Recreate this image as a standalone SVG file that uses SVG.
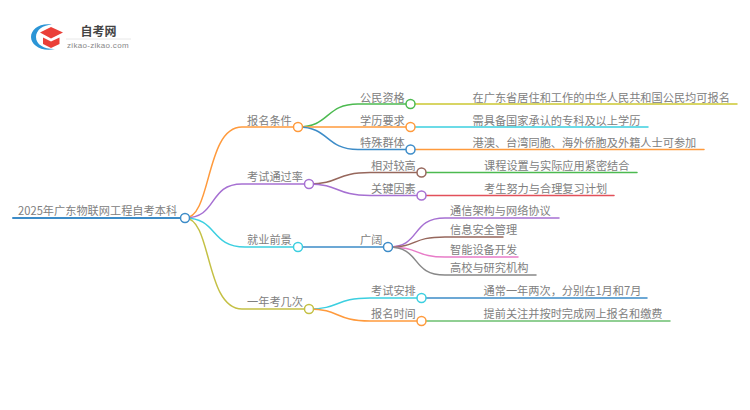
<svg xmlns="http://www.w3.org/2000/svg" width="750" height="410" viewBox="0 0 750 410">
<style>
text{font-family:"Noto Sans CJK SC","Liberation Sans",sans-serif;font-size:11.2px;fill:#808080}
.c{fill:none;stroke-width:1.5;stroke-linecap:round}
.n{fill:#fff;stroke-width:1.5}
.or{stroke:#ff9a3c}.pu{stroke:#a670d2}.cy{stroke:#3ccfe0}.ol{stroke:#c4c044}.gr{stroke:#4cba50}.bl{stroke:#3d8cc8}.br{stroke:#96675c}.re{stroke:#e2505a}.pi{stroke:#e87cc8}.ga{stroke:#888}.ye{stroke:#ccc832}.gn{stroke:#6cc070}
</style>
<rect width="750" height="410" fill="#fff"/>
<g id="logo">
<path d="M52 24.500C40 22.500 31 29 31 37C31 45 41 52 55 49C45 49.500 36 45 36 37C36 30 43 25 52 24.500Z" fill="#2b95d6"/>
<path d="M51 27L63 32.500L51 38.500L40 32.500Z" fill="#ea3f38"/>
<path d="M43 37.500L51 41.500L59.500 37.500V44L51 48L43 44Z" fill="#ea3f38"/>
<text x="80.500" y="35.500" style="font-size:12px;font-weight:700;fill:#444">自考网</text>
<line x1="66" y1="39" x2="131" y2="39" stroke="#e8e8e8"/>
<text x="67" y="48" style="font-size:8px;fill:#888;font-family:'Liberation Sans',sans-serif;letter-spacing:.3px">zikao-zikao.com</text>
</g>
<g id="connectors">
<path class="c bl" d="M13 218H185" style="stroke-width:2"/>
<path class="c or" d="M185 218C212 218 205 127 242 127H298"/>
<path class="c pu" d="M185 218C218 218 208 184 242 184H309"/>
<path class="c cy" d="M185 218C218 218 210 247 245 247H298"/>
<path class="c ol" d="M185 218C212 218 205 309 242 309H309"/>
<path class="c gr" d="M298 127C330 127 325 104 358 104H410"/>
<path class="c or" d="M298 127H410"/>
<path class="c bl" d="M298 127C330 127 325 149.500 358 149.500H410"/>
<path class="c br" d="M309 184C340 184 335 172.500 370 172.500H421"/>
<path class="c pu" d="M309 184C340 184 335 195.500 370 195.500H421"/>
<path class="c bl" d="M298 247H388"/>
<path class="c cy" d="M309 309C340 309 335 298 370 298H421"/>
<path class="c or" d="M309 309C340 309 335 321 370 321H421"/>
<path class="c pu" d="M388 247C422 247 410 218 445 218H559"/>
<path class="c br" d="M388 247C420 247 410 237 445 237H503"/>
<path class="c pi" d="M388 247C420 247 415 257 445 257H518"/>
<path class="c ga" d="M388 247C422 247 410 275 445 275H536"/>
<path class="c ye" d="M410 104H737"/>
<path class="c cy" d="M410 127H648"/>
<path class="c or" d="M410 149.500H704"/>
<path class="c gr" d="M421 172.500H637"/>
<path class="c re" d="M421 195.500H614"/>
<path class="c bl" d="M421 298H647"/>
<path class="c gn" d="M421 321H670"/>
</g>
<g id="root"><text x="18" y="215">2025年广东物联网工程自考本科</text><circle class="n bl" cx="185" cy="218" r="4.500"/></g>
<g id="n1"><text x="247" y="124.500">报名条件</text><circle class="n or" cx="298" cy="127" r="4.500"/></g>
<g id="n2"><text x="247" y="181">考试通过率</text><circle class="n pu" cx="309" cy="184" r="4.500"/></g>
<g id="n3"><text x="247" y="244">就业前景</text><circle class="n cy" cx="298" cy="247" r="4.500"/></g>
<g id="n4"><text x="247" y="306">一年考几次</text><circle class="n ol" cx="309" cy="309" r="4.500"/></g>
<g id="n11"><text x="360" y="101.500">公民资格</text><circle class="n gr" cx="410.500" cy="104" r="4.500"/></g>
<g id="n12"><text x="360" y="124.500">学历要求</text><circle class="n or" cx="410.500" cy="127" r="4.500"/></g>
<g id="n13"><text x="360" y="147">特殊群体</text><circle class="n bl" cx="410.500" cy="149.500" r="4.500"/></g>
<g id="n21"><text x="371" y="170">相对较高</text><circle class="n br" cx="421.500" cy="172.500" r="4.500"/></g>
<g id="n22"><text x="371" y="193">关键因素</text><circle class="n pu" cx="421.500" cy="195.500" r="4.500"/></g>
<g id="n31"><text x="360" y="244">广阔</text><circle class="n bl" cx="388" cy="247" r="4.500"/></g>
<g id="n41"><text x="371" y="295">考试安排</text><circle class="n cy" cx="421.500" cy="298" r="4.500"/></g>
<g id="n42"><text x="371" y="318">报名时间</text><circle class="n or" cx="421.500" cy="321" r="4.500"/></g>
<g id="l111"><text x="472.500" y="101.500">在广东省居住和工作的中华人民共和国公民均可报名</text></g>
<g id="l121"><text x="472.500" y="124.500">需具备国家承认的专科及以上学历</text></g>
<g id="l131"><text x="472.500" y="147">港澳、台湾同胞、海外侨胞及外籍人士可参加</text></g>
<g id="l211"><text x="484" y="170">课程设置与实际应用紧密结合</text></g>
<g id="l221"><text x="484" y="193">考生努力与合理复习计划</text></g>
<g id="l311"><text x="450" y="215">通信架构与网络协议</text></g>
<g id="l312"><text x="450" y="234">信息安全管理</text></g>
<g id="l313"><text x="450" y="254">智能设备开发</text></g>
<g id="l314"><text x="450" y="272">高校与研究机构</text></g>
<g id="l411"><text x="483.500" y="295">通常一年两次，分别在1月和7月</text></g>
<g id="l421"><text x="483.500" y="318">提前关注并按时完成网上报名和缴费</text></g>
</svg>
